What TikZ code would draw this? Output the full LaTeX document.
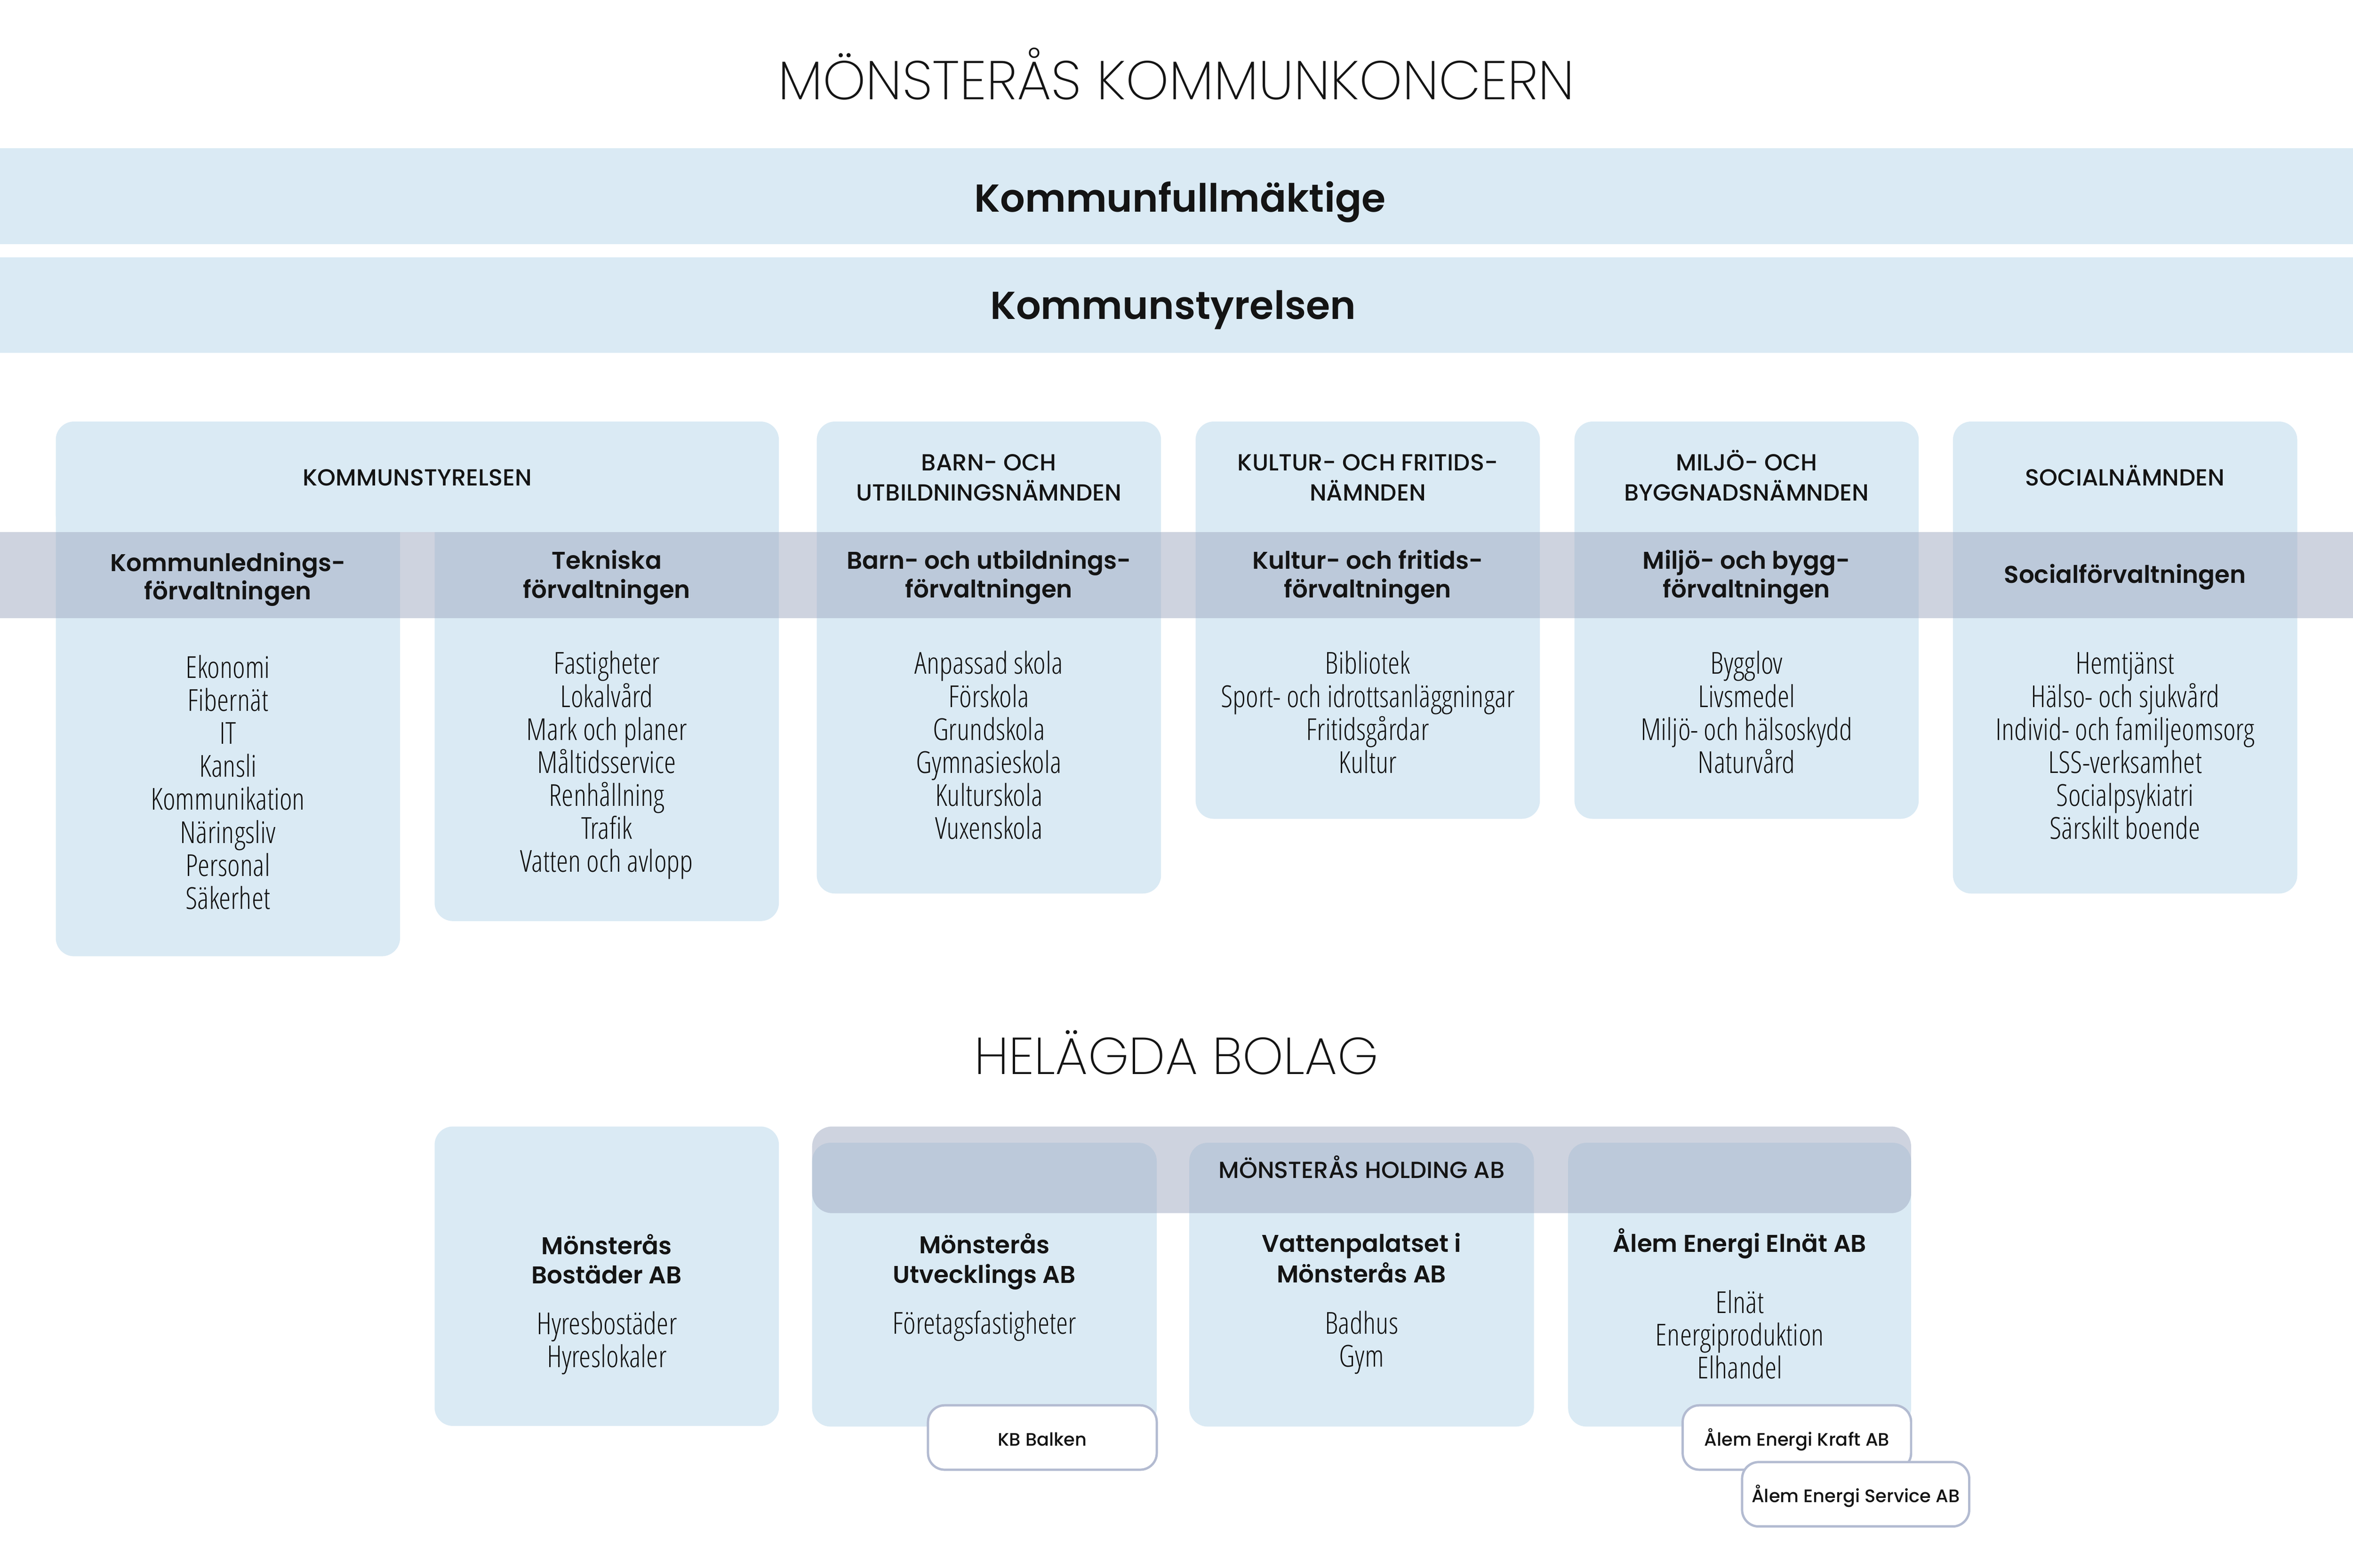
\documentclass[tikz,border=0pt]{standalone}
\usepackage{fontspec}
\usepackage{tikz}

% fonts, with fallbacks
\IfFontExistsTF{Poppins ExtraLight}{\newfontfamily\bigtitlefont{Poppins ExtraLight}}{\newfontfamily\bigtitlefont{Poppins}}
\IfFontExistsTF{Poppins SemiBold}{\newfontfamily\namefont{Poppins SemiBold}}{\newfontfamily\namefont{Poppins}[FakeBold=2]}
\IfFontExistsTF{Poppins Medium}{\newfontfamily\capsfont{Poppins Medium}}{\newfontfamily\capsfont{Poppins}}
\IfFontExistsTF{Poppins Medium}{\newfontfamily\subcofont{Poppins Medium}}{\newfontfamily\subcofont{Poppins}}
\IfFontExistsTF{Open Sans Condensed Light}{\newfontfamily\itemfont{Open Sans Condensed Light}}{%
  \IfFontExistsTF{Fira Sans Light}{\newfontfamily\itemfont{Fira Sans Light}[FakeStretch=0.78]}{\newfontfamily\itemfont{Fira Sans}[FakeStretch=0.78]}}

\definecolor{boxblue}{HTML}{DAEAF4}
\definecolor{bandgray}{HTML}{9FA9C1}
\definecolor{edgegray}{HTML}{B3BBD1}
\definecolor{inkblack}{HTML}{141414}

\tikzset{
  boxfill/.style={fill=boxblue},
  bandfill/.style={fill=bandgray, fill opacity=0.5},
  titletext/.style={font=\bigtitlefont\fontsize{44.5}{52}\selectfont, text=inkblack, anchor=base, inner sep=0pt},
  bandtext/.style={font=\namefont\fontsize{33.4}{40}\selectfont, text=inkblack, anchor=base, inner sep=0pt},
  headtext/.style={font=\capsfont\fontsize{20.0}{24}\selectfont, text=inkblack, anchor=base, inner sep=0pt},
  officetext/.style={font=\namefont\fontsize{20.8}{24}\selectfont, text=inkblack, anchor=base, inner sep=0pt},
  itemtext/.style={font=\itemfont\fontsize{25.9}{28}\selectfont, text=inkblack, anchor=base, inner sep=0pt},
  subcobox/.style={draw=edgegray, line width=2pt, fill=white, rounded corners=0.5cm,
    minimum height=1.94cm, text height=0.5cm, text depth=0pt, inner sep=0pt,
    font=\subcofont\fontsize{15.5}{18}\selectfont, text=inkblack},
}

\begin{document}
\begin{tikzpicture}[x=1cm,y=-1cm]
    % canvas
    \useasboundingbox (0,0) rectangle (70.87,47.24);
    \fill[white] (0,0) rectangle (70.87,47.24);

    % draw title
    \node[titletext, font=\bigtitlefont\fontsize{46.8}{54}\selectfont] (koncern) at (35.43,3.00) {MÖNSTERÅS KOMMUNKONCERN};

    % draw top bands
    \fill[boxfill] (0,4.47) rectangle (70.87,7.35);
    \fill[boxfill] (0,7.75) rectangle (70.87,10.63);
    \node[bandtext] (kf) at (35.54,6.38) {Kommunfullmäktige};
    \node[bandtext] (ks) at (35.33,9.62) {Kommunstyrelsen};

    % draw committee boxes
    \fill[boxfill, rounded corners=0.55cm] (1.68,12.70) rectangle (23.46,16.03);
    \fill[boxfill, rounded corners=0.55cm] (1.68,14.00) rectangle (12.05,28.81);
    \fill[boxfill, rounded corners=0.55cm] (13.09,14.00) rectangle (23.46,27.75);
    \fill[boxfill, rounded corners=0.55cm] (24.60,12.70) rectangle (34.97,26.92);
    \fill[boxfill, rounded corners=0.55cm] (36.01,12.70) rectangle (46.38,24.67);
    \fill[boxfill, rounded corners=0.55cm] (47.42,12.70) rectangle (57.79,24.67);
    \fill[boxfill, rounded corners=0.55cm] (58.82,12.70) rectangle (69.19,26.92);

    % draw band across the offices
    \fill[bandfill] (0,16.03) rectangle (70.87,18.62);

    % committee headers
    \node[headtext] (ks-head) at (12.57,14.63) {KOMMUNSTYRELSEN};
    \node[headtext] (bun-head1) at (29.785,14.18) {BARN- OCH};
    \node[headtext] (bun-head2) at (29.785,15.09) {UTBILDNINGSNÄMNDEN};
    \node[headtext] (kfn-head1) at (41.195,14.18) {KULTUR- OCH FRITIDS-};
    \node[headtext] (kfn-head2) at (41.195,15.09) {NÄMNDEN};
    \node[headtext] (mbn-head1) at (52.605,14.18) {MILJÖ- OCH};
    \node[headtext] (mbn-head2) at (52.605,15.09) {BYGGNADSNÄMNDEN};
    \node[headtext] (sn-head) at (64.005,14.63) {SOCIALNÄMNDEN};

    % offices
    \node[officetext] (klf1) at (6.865,17.21) {Kommunlednings-};
    \node[officetext] (klf2) at (6.865,18.07) {förvaltningen};
    \node[officetext] (tf1) at (18.275,17.15) {Tekniska};
    \node[officetext] (tf2) at (18.275,18.02) {förvaltningen};
    \node[officetext] (buf1) at (29.785,17.14) {Barn- och utbildnings-};
    \node[officetext] (buf2) at (29.785,18.01) {förvaltningen};
    \node[officetext] (kff1) at (41.195,17.14) {Kultur- och fritids-};
    \node[officetext] (kff2) at (41.195,18.01) {förvaltningen};
    \node[officetext] (mbf1) at (52.605,17.14) {Miljö- och bygg-};
    \node[officetext] (mbf2) at (52.605,18.01) {förvaltningen};
    \node[officetext] (sf) at (64.005,17.57) {Socialförvaltningen};

    % office activities
    \foreach \t [count=\i] in {Ekonomi,Fibernät,IT,Kansli,Kommunikation,Näringsliv,Personal,Säkerhet}
      \node[itemtext] (klf-item\i) at (6.865,19.436+0.994*\i) {\t};
    \foreach \t [count=\i] in {Fastigheter,Lokalvård,Mark och planer,Måltidsservice,Renhållning,Trafik,Vatten och avlopp}
      \node[itemtext] (tf-item\i) at (18.275,19.316+0.994*\i) {\t};
    \foreach \t [count=\i] in {Anpassad skola,Förskola,Grundskola,Gymnasieskola,Kulturskola,Vuxenskola}
      \node[itemtext] (buf-item\i) at (29.785,19.316+0.994*\i) {\t};
    \foreach \t [count=\i] in {Bibliotek,Sport- och idrottsanläggningar,Fritidsgårdar,Kultur}
      \node[itemtext] (kff-item\i) at (41.195,19.316+0.994*\i) {\t};
    \foreach \t [count=\i] in {Bygglov,Livsmedel,Miljö- och hälsoskydd,Naturvård}
      \node[itemtext] (mbf-item\i) at (52.605,19.316+0.994*\i) {\t};
    \foreach \t [count=\i] in {Hemtjänst,Hälso- och sjukvård,Individ- och familjeomsorg,LSS-verksamhet,Socialpsykiatri,Särskilt boende}
      \node[itemtext] (sf-item\i) at (64.005,19.316+0.994*\i) {\t};

    % draw company section
    \node[titletext] (bolag) at (35.43,32.36) {HELÄGDA BOLAG};

    \fill[boxfill, rounded corners=0.55cm] (13.09,33.94) rectangle (23.46,42.96);
    \fill[boxfill, rounded corners=0.55cm] (24.46,34.43) rectangle (34.84,42.98);
    \fill[boxfill, rounded corners=0.55cm] (35.82,34.43) rectangle (46.20,42.98);
    \fill[boxfill, rounded corners=0.55cm] (47.23,34.43) rectangle (57.56,42.98);
    \fill[bandfill, rounded corners=0.6cm] (24.46,33.94) rectangle (57.56,36.55);

    \node[headtext] (holding) at (41.01,35.50) {MÖNSTERÅS HOLDING AB};

    \node[officetext] (mb1) at (18.275,37.79) {Mönsterås};
    \node[officetext] (mb2) at (18.275,38.67) {Bostäder AB};
    \node[officetext] (mu1) at (29.65,37.76) {Mönsterås};
    \node[officetext] (mu2) at (29.65,38.66) {Utvecklings AB};
    \node[officetext] (vp1) at (41.01,37.73) {Vattenpalatset i};
    \node[officetext] (vp2) at (41.01,38.64) {Mönsterås AB};
    \node[officetext] (ae) at (52.40,37.73) {Ålem Energi Elnät AB};

    \foreach \t [count=\i] in {Hyresbostäder,Hyreslokaler}
      \node[itemtext] (mb-item\i) at (18.275,39.22+0.99*\i) {\t};
    \node[itemtext] (mu-item1) at (29.65,40.19) {Företagsfastigheter};
    \foreach \t [count=\i] in {Badhus,Gym}
      \node[itemtext] (vp-item\i) at (41.01,39.20+0.99*\i) {\t};
    \foreach \t [count=\i] in {Elnät,Energiproduktion,Elhandel}
      \node[itemtext] (ae-item\i) at (52.40,38.57+0.99*\i) {\t};

    % draw subsidiaries
    \node[subcobox, minimum width=6.89cm] (kbbalken) at (31.395,43.31) {KB Balken};
    \node[subcobox, minimum width=6.88cm] (kraft) at (54.12,43.31) {Ålem Energi Kraft AB};
    \node[subcobox, minimum width=6.84cm] (service) at (55.89,45.02) {Ålem Energi Service AB};
\end{tikzpicture}
\end{document}
